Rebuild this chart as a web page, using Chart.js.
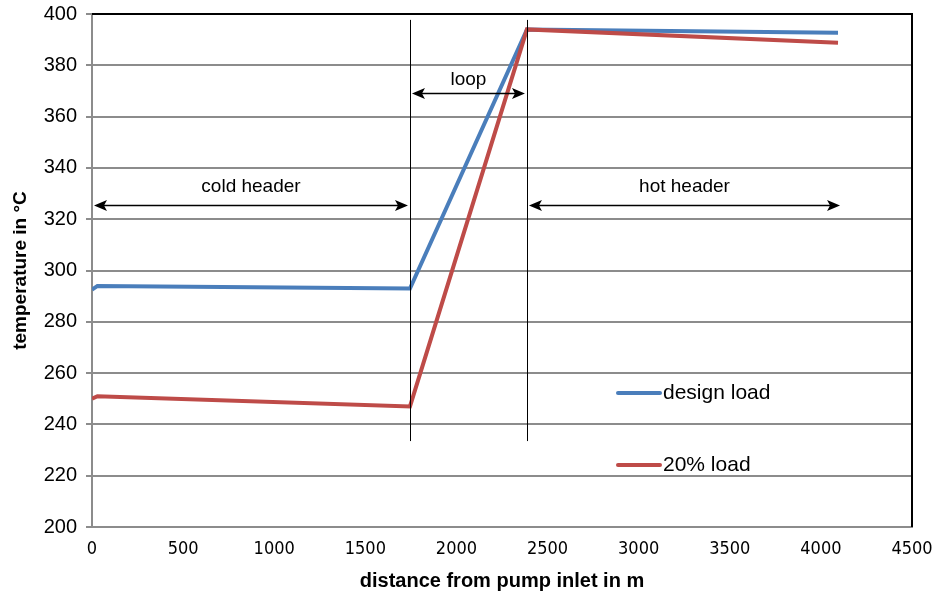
<!DOCTYPE html>
<html>
<head>
<meta charset="utf-8">
<script src="https://cdn.jsdelivr.net/npm/chart.js@4"></script>
<style>
  html, body { margin: 0; padding: 0; background: #fff; }
  #wrap { width: 941px; height: 597px; }
</style>
</head>
<body>
<div id="wrap"><canvas id="myChart" width="941" height="597"></canvas></div>
<script>
// series: distance in m, temperature in °C
const designX = [0, 30, 1745, 2387, 4094];
const designY = [292.5, 294, 293, 394, 392.7];
const lowX = [0, 30, 1745, 2387, 4094];
const lowY = [250, 251, 247, 394, 388.8];
const seriesNames = ['design load', '20% load'];
const seriesColors = ['#4a7ebb', '#be4b48'];

// section markers
const sectionBounds = [0, 1745, 2387, 4116];
const sectionNames = ['cold header', 'loop', 'hot header'];
const arrowLevels = [325.5, 369.2, 325.5];
const labelLevels = [332.5, 374.5, 332.5];
const markerTop = 397.7;
const markerBottom = 233.5;

function toPoints(xs, ys) {
    return xs.map((x, i) => ({ x: x, y: ys[i] }));
}

const FONT = '"Liberation Sans", Arial, sans-serif';
const NARROW = '"Liberation Sans Narrow", "DejaVu Sans Condensed", "Liberation Sans", sans-serif';

// Pfeile, Trennlinien, Rahmen und Legende
const extras = {
    id: 'extras',
    afterDatasetsDraw(chart) {
        const ctx = chart.ctx;
        const xs = chart.scales.x, ys = chart.scales.y;
        const a = chart.chartArea;
        ctx.save();

        // vertical separators
        ctx.strokeStyle = '#000';
        ctx.lineWidth = 1;
        [sectionBounds[1], sectionBounds[2]].forEach(v => {
            const px = Math.round(xs.getPixelForValue(v)) + 0.5;
            ctx.beginPath();
            ctx.moveTo(px, ys.getPixelForValue(markerTop));
            ctx.lineTo(px, ys.getPixelForValue(markerBottom));
            ctx.stroke();
        });

        // double arrows + labels
        for (let i = 0; i < sectionNames.length; i++) {
            const x1 = xs.getPixelForValue(sectionBounds[i]) + 2;
            const x2 = xs.getPixelForValue(sectionBounds[i + 1]) - 2;
            const y = Math.round(ys.getPixelForValue(arrowLevels[i])) + 0.5;
            ctx.strokeStyle = '#000';
            ctx.fillStyle = '#000';
            ctx.lineWidth = 1.5;
            ctx.beginPath();
            ctx.moveTo(x1 + 4, y);
            ctx.lineTo(x2 - 4, y);
            ctx.stroke();
            [[x1, 1], [x2, -1]].forEach(([px, d]) => {
                ctx.beginPath();
                ctx.moveTo(px, y);
                ctx.lineTo(px + d * 13, y - 5.5);
                ctx.lineTo(px + d * 10, y);
                ctx.lineTo(px + d * 13, y + 5.5);
                ctx.closePath();
                ctx.fill();
            });
            ctx.font = '19px ' + FONT;
            ctx.textAlign = 'center';
            ctx.textBaseline = 'middle';
            ctx.fillText(sectionNames[i], (x1 + x2) / 2, ys.getPixelForValue(labelLevels[i]));
        }

        // top and right border
        ctx.strokeStyle = '#000';
        ctx.lineWidth = 2;
        ctx.beginPath();
        ctx.moveTo(a.left, a.top);
        ctx.lineTo(a.right, a.top);
        ctx.lineTo(a.right, a.bottom);
        ctx.stroke();

        // legend inside plot
        const legendY = [393, 465];
        chart.data.datasets.forEach((ds, i) => {
            ctx.strokeStyle = ds.borderColor;
            ctx.lineWidth = 4;
            ctx.lineCap = 'round';
            ctx.beginPath();
            ctx.moveTo(618, legendY[i]);
            ctx.lineTo(660, legendY[i]);
            ctx.stroke();
            ctx.fillStyle = '#000';
            ctx.font = '21px ' + FONT;
            ctx.textAlign = 'left';
            ctx.textBaseline = 'middle';
            ctx.fillText(ds.label, 663, legendY[i]);
        });
        ctx.restore();
    }
};

const config = {
    type: 'line',
    data: {
        datasets: [
            {
                label: seriesNames[0],
                data: toPoints(designX, designY),
                borderColor: seriesColors[0],
                borderWidth: 4,
                pointRadius: 0,
                order: 2
            },
            {
                label: seriesNames[1],
                data: toPoints(lowX, lowY),
                borderColor: seriesColors[1],
                borderWidth: 4,
                pointRadius: 0,
                order: 1
            }
        ]
    },
    options: {
        responsive: false,
        animation: false,
        layout: { padding: { top: 14, right: 29, left: 0, bottom: 0 } },
        plugins: { legend: { display: false }, tooltip: { enabled: false } },
        scales: {
            x: {
                type: 'linear',
                min: 0,
                max: 4500,
                ticks: {
                    stepSize: 500, color: '#000', font: { family: NARROW, size: 18 }, padding: 6, maxRotation: 0,
                    callback: v => String(v)
                },
                grid: { display: false, drawOnChartArea: false, tickLength: 6, tickColor: '#8c8c8c', tickWidth: 2 },
                border: { color: '#8c8c8c', width: 2 },
                title: { display: true, text: 'distance from pump inlet in m', color: '#000', font: { family: FONT, size: 20, weight: 'bold' }, padding: { top: 4 } },
                afterFit(scale) { scale.height = 70; scale.paddingLeft = 0; scale.paddingRight = 0; }
            },
            y: {
                min: 200,
                max: 400,
                ticks: { stepSize: 20, color: '#000', font: { family: FONT, size: 20 }, padding: 9 },
                grid: { color: '#8c8c8c', lineWidth: 2, tickLength: 6 },
                border: { color: '#8c8c8c', width: 2 },
                title: { display: true, text: 'temperature in °C', color: '#000', font: { family: FONT, size: 19, weight: 'bold' }, padding: { top: 9, bottom: 0 } },
                afterFit(scale) { scale.width = 92; scale.paddingTop = 0; scale.paddingBottom = 0; }
            }
        }
    },
    plugins: [extras]
};

const ctx = document.querySelector('#myChart').getContext('2d');
new Chart(ctx, config);
</script>
</body>
</html>
